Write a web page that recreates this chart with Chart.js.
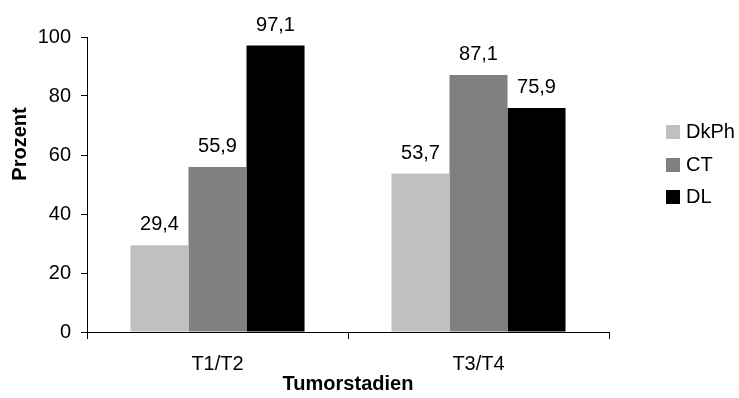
<!DOCTYPE html>
<html>
<head>
<meta charset="utf-8">
<script src="https://cdn.jsdelivr.net/npm/chart.js@4"></script>
<style>
  html, body { margin: 0; padding: 0; background: #fff; }
  #wrap { width: 739px; height: 398px; }
</style>
</head>
<body>
<div id="wrap"><canvas id="c" width="739" height="398"></canvas></div>
<script>
// Tumour stages on the category axis
const categories = ['T1/T2', 'T3/T4'];
// Detection rates in percent per method
const seriesNames = ['DkPh', 'CT', 'DL'];
const dkphValues = [29.4, 53.7];
const ctValues = [55.9, 87.1];
const dlValues = [97.1, 75.9];
const yTicks = [0, 20, 40, 60, 80, 100];

const FONT = '"Liberation Sans", Arial, Helvetica, sans-serif';
const colors = ['#C0C0C0', '#808080', '#000000'];

// Value labels above each bar, German decimal comma
const valueLabels = {
  id: 'valueLabels',
  afterDatasetsDraw(chart) {
    const ctx = chart.ctx;
    ctx.save();
    ctx.font = '20px ' + FONT;
    ctx.fillStyle = '#000';
    ctx.textAlign = 'center';
    ctx.textBaseline = 'alphabetic';
    chart.data.datasets.forEach((ds, i) => {
      chart.getDatasetMeta(i).data.forEach((bar, j) => {
        const txt = ds.data[j].toFixed(1).replace('.', ',');
        ctx.fillText(txt, bar.x, bar.y - 15);
      });
    });
    ctx.restore();
  }
};

// Axis titles and legend on the right
const decorations = {
  id: 'decorations',
  afterDraw(chart) {
    const ctx = chart.ctx;
    const area = chart.chartArea;
    ctx.save();
    ctx.fillStyle = '#000';
    ctx.font = 'bold 20px ' + FONT;
    ctx.textAlign = 'center';
    ctx.textBaseline = 'middle';
    ctx.fillText('Tumorstadien', (area.left + area.right) / 2, 384);
    ctx.save();
    ctx.translate(20, 144);
    ctx.rotate(-Math.PI / 2);
    ctx.fillText('Prozent', 0, 0);
    ctx.restore();

    ctx.font = '20px ' + FONT;
    ctx.textAlign = 'left';
    const rowY = [132, 165, 197];
    chart.data.datasets.forEach((ds, i) => {
      ctx.fillStyle = ds.backgroundColor;
      ctx.fillRect(666, rowY[i] - 7, 14, 14);
      ctx.fillStyle = '#000';
      ctx.fillText(ds.label, 686, rowY[i]);
    });
    ctx.restore();
  }
};

const datasets = [dkphValues, ctValues, dlValues].map((vals, i) => ({
  label: seriesNames[i],
  data: vals,
  backgroundColor: colors[i],
  borderWidth: 0,
  categoryPercentage: 0.667,
  barPercentage: 1.0
}));

new Chart(document.getElementById('c'), {
  type: 'bar',
  data: { labels: categories, datasets },
  options: {
    responsive: false,
    animation: false,
    devicePixelRatio: 1,
    layout: { padding: { top: 37, right: 130, left: 0, bottom: 0 } },
    plugins: {
      legend: { display: false },
      tooltip: { enabled: false }
    },
    scales: {
      x: {
        grid: {
          offset: true,
          drawOnChartArea: false,
          tickLength: 7,
          color: '#000',
          lineWidth: 1
        },
        border: { color: '#000', width: 1 },
        ticks: {
          color: '#000',
          font: { family: FONT, size: 20 },
          padding: 13,
          maxRotation: 0
        },
        afterFit(scale) { scale.height = 66; }
      },
      y: {
        min: 0,
        max: 100,
        afterBuildTicks(scale) { scale.ticks = yTicks.map(v => ({ value: v })); },
        grid: {
          drawOnChartArea: false,
          tickLength: 6,
          color: '#000',
          lineWidth: 1
        },
        border: { color: '#000', width: 1 },
        ticks: {
          color: '#000',
          font: { family: FONT, size: 20 },
          padding: 10
        },
        afterFit(scale) { scale.width = 87; }
      }
    }
  },
  plugins: [valueLabels, decorations]
});
</script>
</body>
</html>
